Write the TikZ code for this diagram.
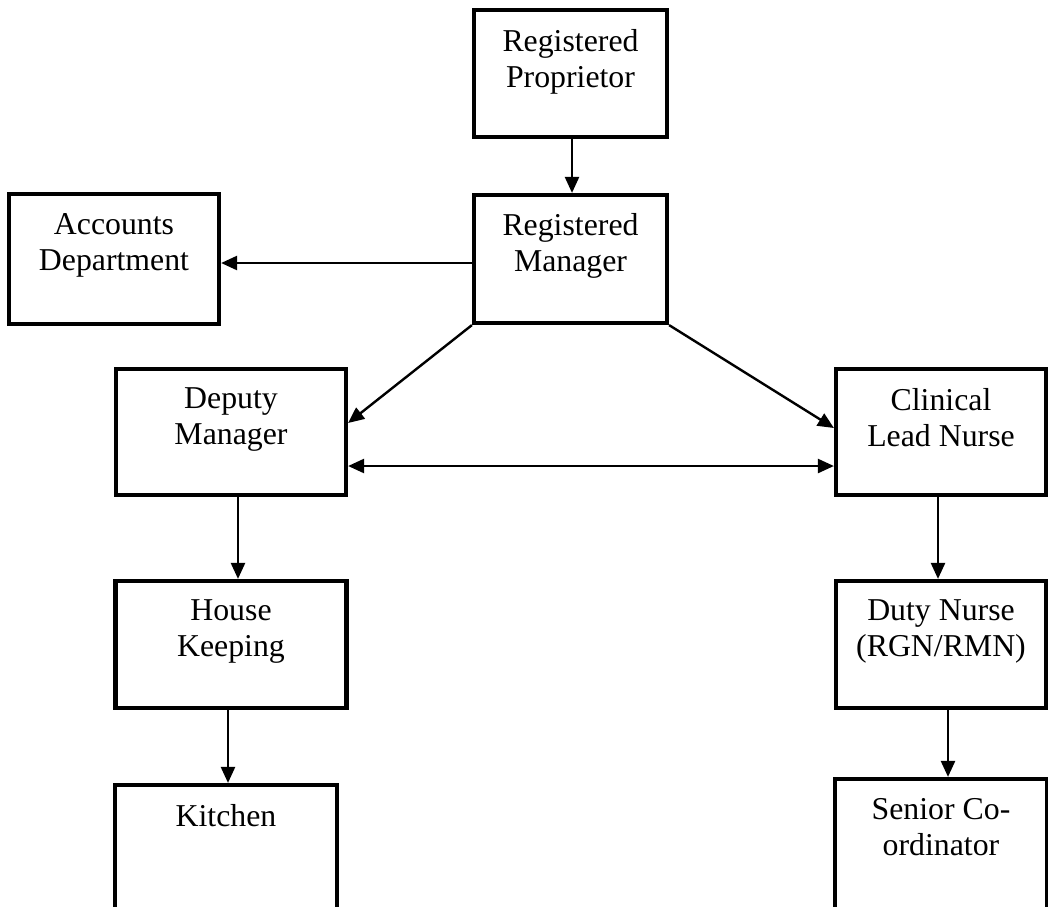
\documentclass[tikz,border=0pt]{standalone}
\usepackage{fontspec}
\setmainfont{Liberation Serif}
\usetikzlibrary{arrows.meta,calc}
\begin{document}
\begin{tikzpicture}[x=1pt,y=-1pt,
  box/.style={draw=black,line width=4.2pt,rectangle,inner sep=0pt},
  txt/.style={anchor=north,inner sep=0pt,align=center,font=\fontsize{31.8}{36}\selectfont},
  arr/.style={line width=2.4pt,-{Triangle[length=16pt,width=14pt]}},
  darr/.style={line width=2.4pt,{Triangle[length=16pt,width=14pt]}-{Triangle[length=16pt,width=14pt]}}]
\path[use as bounding box,clip] (0,0) rectangle (1048,906);
% boxes
\node[box,minimum width=193pt,minimum height=127pt] (rp) at (570.5,73.5) {};
\node[box,minimum width=193pt,minimum height=128pt] (rm) at (570.5,259) {};
\node[box,minimum width=210pt,minimum height=130pt] (ac) at (114,259) {};
\node[box,minimum width=230pt,minimum height=126pt] (dm) at (231,432) {};
\node[box,minimum width=210pt,minimum height=126pt] (cl) at (941,432) {};
\node[box,minimum width=231pt,minimum height=127pt] (hk) at (231,644.5) {};
\node[box,minimum width=210pt,minimum height=127pt] (dn) at (941,644.5) {};
\node[box,minimum width=222pt,minimum height=200pt] (kt) at (226,885) {};
\node[box,minimum width=212pt,minimum height=200pt] (sc) at (941,879) {};
% texts
\node[txt] (rpt) at ($(rp.north)+(0,21)$) {Registered\\Proprietor};
\node[txt] (rmt) at ($(rm.north)+(0,20)$) {Registered\\Manager};
\node[txt] (act) at ($(ac.north)+(0,21)$) {Accounts\\Department};
\node[txt] (dmt) at ($(dm.north)+(0,21)$) {Deputy\\Manager};
\node[txt] (clt) at ($(cl.north)+(0,21)$) {Clinical\\Lead Nurse};
\node[txt] (hkt) at ($(hk.north)+(0,21)$) {House\\Keeping};
\node[txt] (dnt) at ($(dn.north)+(0,21)$) {Duty Nurse\\(RGN/RMN)};
\node[txt] (ktt) at ($(kt.north)+(0,21)$) {Kitchen};
\node[txt] (sct) at ($(sc.north)+(0,21)$) {Senior Co-\\ordinator};
% connectors
\draw[arr] ($(rp.south)+(1.5,0)$) -- ($(rm.north)+(1.5,0)$);
\draw[arr] ($(rm.west)+(0,4)$) -- ($(ac.east)+(0,4)$);
\draw[arr] (rm.south west) -- ($(dm.east)+(0,-9)$);
\draw[arr] (rm.south east) -- ($(cl.west)+(0,-4)$);
\draw[darr] ($(dm.east)+(0,34)$) -- ($(cl.west)+(0,34)$);
\draw[arr] ($(dm.south)+(7,0)$) -- ($(hk.north)+(7,0)$);
\draw[arr] ($(cl.south)+(-3,0)$) -- ($(dn.north)+(-3,0)$);
\draw[arr] ($(hk.south)+(-3,0)$) -- ($(kt.north)+(2,0)$);
\draw[arr] ($(dn.south)+(7,0)$) -- ($(sc.north)+(7,0)$);
\end{tikzpicture}
\end{document}
